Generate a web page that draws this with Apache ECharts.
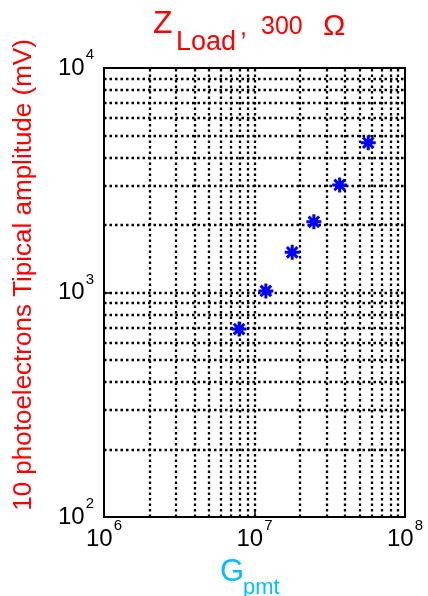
<!DOCTYPE html>
<html>
<head>
<meta charset="utf-8">
<script src="https://cdn.jsdelivr.net/npm/echarts@6/dist/echarts.min.js"></script>
<style>
  html, body { margin: 0; padding: 0; background: #fff; }
  #chart { width: 428px; height: 596px; }
</style>
</head>
<body>
<div id="chart"></div>
<script>
// PMT gain vs. typical amplitude of a 10-photoelectron pulse (300 ohm load)
const gain = [7.9e6, 1.19e7, 1.78e7, 2.48e7, 3.68e7, 5.7e7];
const amplitude = [687, 1016, 1510, 2065, 3013, 4646];

// log-axis decades and the in-decade grid multipliers
const xDecades = [1e6, 1e7];
const yDecades = [1e2, 1e3];
const gridSteps = [1, 2, 3, 4, 5, 6, 7, 8, 9];

const FONT = '"Liberation Sans", Arial, Helvetica, sans-serif';

const gridLines = [];
xDecades.forEach(function (d) {
  gridSteps.forEach(function (m) { if (d * m > xDecades[0]) gridLines.push({ xAxis: d * m }); });
});
yDecades.forEach(function (d) {
  gridSteps.forEach(function (m) { if (d * m > yDecades[0]) gridLines.push({ yAxis: d * m }); });
});

function powLabel(v) {
  return '{b|10}{e|' + Math.round(Math.log10(v)) + '}';
}
const powRich = {
  b: { fontSize: 24, lineHeight: 24, fontFamily: FONT, color: '#000', padding: [8.5, 0, 8.5, 0] },
  e: { fontSize: 15, lineHeight: 15, fontFamily: FONT, color: '#000', padding: [0, 0, 26, 1] }
};

function txt(x, y, text, size, color, extra) {
  const el = {
    type: 'text', x: x, y: y,
    style: {
      text: text, fill: color, fontSize: size, fontFamily: FONT,
      align: 'left', verticalAlign: 'middle', textAlign: 'left', textVerticalAlign: 'middle'
    }
  };
  return Object.assign(el, extra || {});
}

const chart = echarts.init(document.getElementById('chart'), null, { renderer: 'canvas' });
chart.setOption({
  backgroundColor: '#fff',
  animation: false,
  grid: {
    left: 104, top: 68, width: 301, height: 449,
    show: true, borderColor: '#000', borderWidth: 2, backgroundColor: 'transparent'
  },
  xAxis: {
    type: 'log', logBase: 10, min: 1e6, max: 1e8,
    axisLine: { show: false },
    axisTick: { show: true, inside: true, length: 6, lineStyle: { color: '#000', width: 1.5 } },
    splitLine: { show: false },
    axisLabel: { formatter: powLabel, rich: powRich, margin: 10 }
  },
  yAxis: {
    type: 'log', logBase: 10, min: 1e2, max: 1e4,
    axisLine: { show: false },
    axisTick: { show: true, inside: true, length: 6, lineStyle: { color: '#000', width: 1.5 } },
    splitLine: { show: false },
    axisLabel: { formatter: powLabel, rich: powRich, margin: 10 }
  },
  series: [{
    type: 'scatter',
    data: gain.map(function (g, i) { return [g, amplitude[i]]; }),
    symbol: 'path://M0,-10L0,10M-10,0L10,0M-7.07,-7.07L7.07,7.07M-7.07,7.07L7.07,-7.07',
    symbolSize: 15,
    itemStyle: { color: '#0000ff', borderColor: '#0000ff', borderWidth: 3, opacity: 1 },
    z: 5,
    markLine: {
      silent: true,
      symbol: ['none', 'none'],
      label: { show: false },
      animation: false,
      lineStyle: { color: '#000', width: 2.3, type: [2.5, 3], opacity: 1 },
      emphasis: { disabled: true },
      data: gridLines
    }
  }],
  graphic: [
    // title: Z_Load, 300 Ω
    txt(153, 24, 'Z', 32, '#ff0000'),
    txt(176, 42.5, 'Load', 27, '#ff0000'),
    txt(240, 28, ',', 25, '#ff0000'),
    txt(261, 27.5, '300', 25, '#ff0000'),
    txt(323, 27, 'Ω', 30, '#ff0000'),
    // x-axis name: G_pmt
    txt(220, 572, 'G', 31, '#00bfff'),
    txt(243, 588, 'pmt', 22, '#00bfff'),
    // y-axis name
    {
      type: 'text', x: 23.5, y: 275, rotation: Math.PI / 2,
      style: {
        text: '10 photoelectrons Tipical amplitude (mV)', fill: '#ff0000', fontSize: 26, fontFamily: FONT,
        align: 'center', verticalAlign: 'middle', textAlign: 'center', textVerticalAlign: 'middle'
      }
    }
  ]
});
</script>
</body>
</html>
